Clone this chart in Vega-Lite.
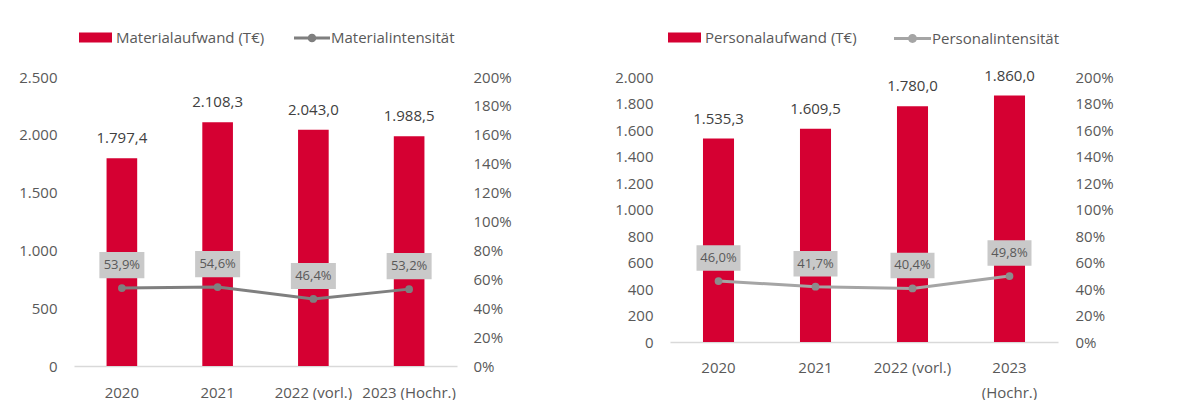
{
  "$schema": "https://vega.github.io/schema/vega-lite/v6.json",
  "background": "white",
  "padding": {"left": 18, "top": 20, "right": 0, "bottom": 0},
  "spacing": 102,
  "resolve": {"scale": {"fill": "independent", "stroke": "independent"}, "legend": {"fill": "independent", "stroke": "independent"}},
  "hconcat": [
    {
      "width": 383,
      "height": 289,
      "data": {"values": [
        {"jahr": "2020", "aufwand": 1797.4, "intensitaet": 0.539},
        {"jahr": "2021", "aufwand": 2108.3, "intensitaet": 0.546},
        {"jahr": "2022 (vorl.)", "aufwand": 2043.0, "intensitaet": 0.464},
        {"jahr": "2023 (Hochr.)", "aufwand": 1988.5, "intensitaet": 0.532}
      ]},
      "encoding": {
        "x": {"field": "jahr", "type": "nominal", "sort": null, "title": null,
          "scale": {"paddingInner": 0.68, "paddingOuter": 0.34},
          "axis": {"labelAngle": 0, "ticks": false, "domainColor": "#d9d9d9", "domainWidth": 1.5, "labelPadding": 19, "labelFontSize": 15, "labelColor": "#595959"}}
      },
      "layer": [
        {
          "encoding": {"y": {"field": "aufwand", "type": "quantitative", "title": null,
            "scale": {"domain": [0, 2500]},
            "axis": {"values": [0, 500, 1000, 1500, 2000, 2500], "format": ",.0f", "domain": false, "ticks": false, "tickSize": 0, "grid": false, "labelPadding": 17, "labelFontSize": 15, "labelColor": "#595959"}}},
          "layer": [
            {"mark": {"type": "bar", "color": "#d50032"},
             "encoding": {"fill": {"datum": "Materialaufwand (T€)", "scale": {"range": ["#d50032"]},
               "legend": {"title": null, "orient": "none", "legendX": 5, "legendY": -56, "padding": 0, "symbolType": "M-1,-0.3H1V0.3H-1Z", "symbolSize": 1089, "symbolStrokeWidth": 0, "labelFontSize": 15, "labelColor": "#595959", "labelOffset": 4}}}},
            {"mark": {"type": "text", "baseline": "middle", "dy": -20, "fontSize": 15, "color": "#404040"},
             "encoding": {"text": {"field": "aufwand", "type": "quantitative", "format": ",.1f"}}}
          ]
        },
        {
          "encoding": {"y": {"field": "intensitaet", "type": "quantitative", "title": null,
            "scale": {"domain": [0, 2]},
            "axis": {"orient": "right", "values": [0, 0.2, 0.4, 0.6, 0.8, 1, 1.2, 1.4, 1.6, 1.8, 2], "format": ".0%", "domain": false, "ticks": false, "tickSize": 0, "grid": false, "labelPadding": 16, "labelFontSize": 15, "labelColor": "#595959"}}},
          "layer": [
            {"mark": {"type": "line", "strokeWidth": 3},
             "encoding": {"stroke": {"datum": "Materialintensität", "scale": {"range": ["#7f7f7f"]},
               "legend": {"title": null, "orient": "none", "legendX": 220, "legendY": -57, "padding": 0, "symbolType": "M-1,-0.085H1V0.085H-1Z M-0.24,0A0.24,0.24 0 1,1 0.24,0A0.24,0.24 0 1,1 -0.24,0Z", "symbolSize": 1296, "labelFontSize": 15, "labelColor": "#595959", "labelOffset": 1,
                 "encode": {"symbols": {"update": {"fill": {"value": "#7f7f7f"}, "stroke": {"value": "transparent"}, "strokeWidth": {"value": 0}}}}}}}},
            {"mark": {"type": "point", "filled": true, "opacity": 1, "size": 60, "color": "#7f7f7f"}},
            {"mark": {"type": "point", "filled": true, "opacity": 1, "shape": "M-1,-0.58H1V0.58H-1Z", "size": 2025, "color": "#c9c9c9", "yOffset": -23}},
            {"mark": {"type": "text", "baseline": "middle", "yOffset": -23, "fontSize": 13, "color": "#595959"},
             "encoding": {"text": {"field": "intensitaet", "type": "quantitative", "format": ".1%"}}}
          ]
        }
      ],
      "resolve": {"scale": {"y": "independent"}}
    },
    {
      "width": 388,
      "height": 265,
      "data": {"values": [
        {"jahr": "2020", "aufwand": 1535.3, "intensitaet": 0.46},
        {"jahr": "2021", "aufwand": 1609.5, "intensitaet": 0.417},
        {"jahr": "2022 (vorl.)", "aufwand": 1780.0, "intensitaet": 0.404},
        {"jahr": "2023 (Hochr.)", "aufwand": 1860.0, "intensitaet": 0.498}
      ]},
      "encoding": {
        "x": {"field": "jahr", "type": "nominal", "sort": null, "title": null,
          "scale": {"paddingInner": 0.68, "paddingOuter": 0.34},
          "axis": {"labelAngle": 0, "ticks": false, "domainColor": "#d9d9d9", "domainWidth": 1.5, "labelPadding": 18, "labelFontSize": 15, "labelColor": "#595959", "labelLineHeight": 25,
            "labelExpr": "datum.label == '2023 (Hochr.)' ? ['2023', '(Hochr.)'] : datum.label"}}
      },
      "layer": [
        {
          "encoding": {"y": {"field": "aufwand", "type": "quantitative", "title": null,
            "scale": {"domain": [0, 2000]},
            "axis": {"values": [0, 200, 400, 600, 800, 1000, 1200, 1400, 1600, 1800, 2000], "format": ",.0f", "domain": false, "ticks": false, "tickSize": 0, "grid": false, "labelPadding": 17, "labelFontSize": 15, "labelColor": "#595959"}}},
          "layer": [
            {"mark": {"type": "bar", "color": "#d50032"},
             "encoding": {"fill": {"datum": "Personalaufwand (T€)", "scale": {"range": ["#d50032"]},
               "legend": {"title": null, "orient": "none", "legendX": -2, "legendY": -56, "padding": 0, "symbolType": "M-1,-0.3H1V0.3H-1Z", "symbolSize": 1089, "symbolStrokeWidth": 0, "labelFontSize": 15, "labelColor": "#595959", "labelOffset": 4}}}},
            {"mark": {"type": "text", "baseline": "middle", "dy": -20, "fontSize": 15, "color": "#404040"},
             "encoding": {"text": {"field": "aufwand", "type": "quantitative", "format": ",.1f"}}}
          ]
        },
        {
          "encoding": {"y": {"field": "intensitaet", "type": "quantitative", "title": null,
            "scale": {"domain": [0, 2]},
            "axis": {"orient": "right", "values": [0, 0.2, 0.4, 0.6, 0.8, 1, 1.2, 1.4, 1.6, 1.8, 2], "format": ".0%", "domain": false, "ticks": false, "tickSize": 0, "grid": false, "labelPadding": 17, "labelFontSize": 15, "labelColor": "#595959"}}},
          "layer": [
            {"mark": {"type": "line", "strokeWidth": 3},
             "encoding": {"stroke": {"datum": "Personalintensität", "scale": {"range": ["#a5a5a5"]},
               "legend": {"title": null, "orient": "none", "legendX": 224, "legendY": -57, "padding": 0, "symbolType": "M-1,-0.085H1V0.085H-1Z M-0.24,0A0.24,0.24 0 1,1 0.24,0A0.24,0.24 0 1,1 -0.24,0Z", "symbolSize": 1369, "labelFontSize": 15, "labelColor": "#595959", "labelOffset": 1,
                 "encode": {"symbols": {"update": {"fill": {"value": "#a5a5a5"}, "stroke": {"value": "transparent"}, "strokeWidth": {"value": 0}}}}}}}},
            {"mark": {"type": "point", "filled": true, "opacity": 1, "size": 60, "color": "#8c8c8c"}},
            {"mark": {"type": "point", "filled": true, "opacity": 1, "shape": "M-1,-0.58H1V0.58H-1Z", "size": 1936, "color": "#c9c9c9", "yOffset": -23}},
            {"mark": {"type": "text", "baseline": "middle", "yOffset": -23, "fontSize": 13, "color": "#595959"},
             "encoding": {"text": {"field": "intensitaet", "type": "quantitative", "format": ".1%"}}}
          ]
        }
      ],
      "resolve": {"scale": {"y": "independent"}}
    }
  ],
  "config": {
    "font": "Open Sans",
    "view": {"stroke": null},
    "axis": {"labelFont": "Open Sans"},
    "legend": {"labelFont": "Open Sans"},
    "locale": {"number": {"decimal": ",", "thousands": ".", "grouping": [3], "currency": ["", " €"]}}
  }
}
